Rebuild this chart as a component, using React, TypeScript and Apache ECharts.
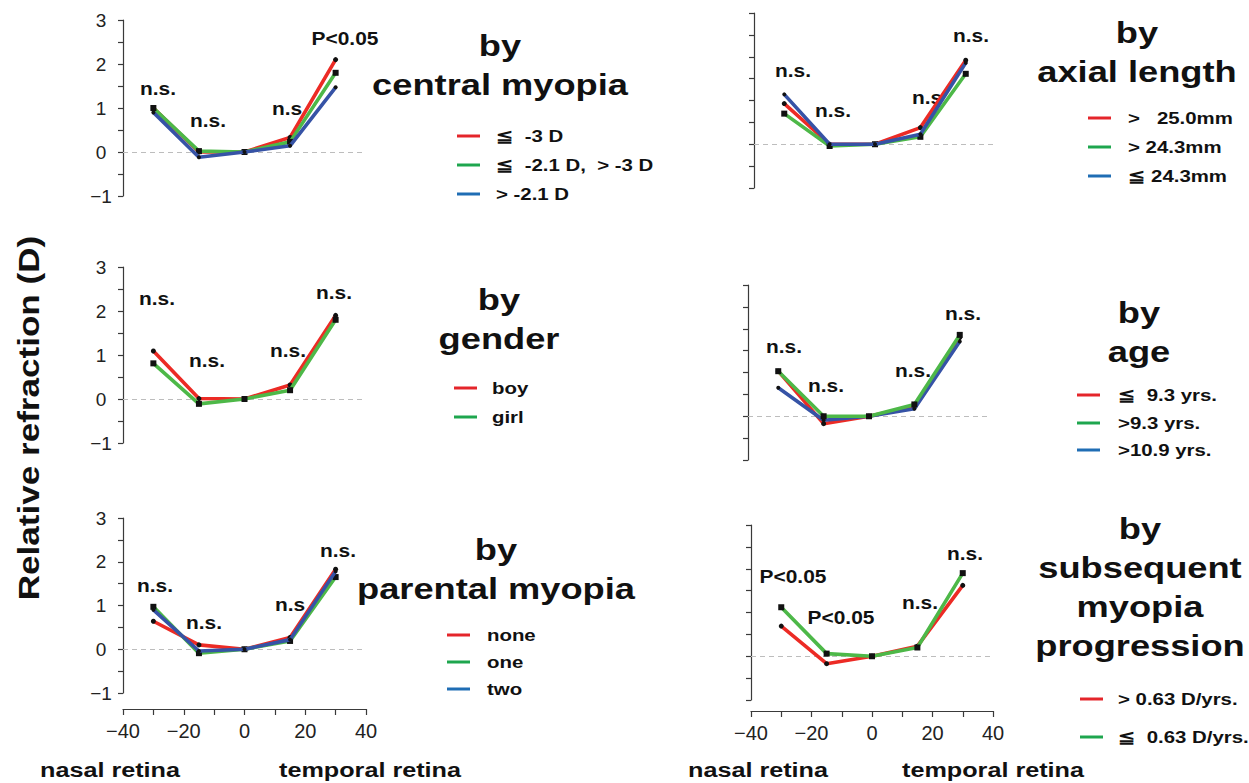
import React, { useEffect, useRef } from 'react';
import * as echarts from 'echarts';

// Eccentricity (degrees) of the measured retinal positions
const ANGLES = [-30, -15, 0, 15, 30];

// by central myopia
const centralHigh = [1.0, 0.0, 0, 0.33, 2.1];
const centralMid = [1.0, 0.02, 0, 0.23, 1.8];
const centralLow = [0.9, -0.12, 0, 0.14, 1.47];

// by axial length
const axialLong = [0.93, 0.0, 0, 0.38, 1.92];
const axialMid = [0.7, -0.04, 0, 0.17, 1.61];
const axialShort = [1.14, 0.0, 0, 0.23, 1.86];

// by gender
const boys = [1.09, 0.01, 0, 0.32, 1.9];
const girls = [0.81, -0.11, 0, 0.2, 1.8];

// by age
const ageYoung = [1.03, -0.17, 0, 0.22, 1.8];
const ageMid = [1.03, 0.0, 0, 0.27, 1.86];
const ageOld = [0.65, -0.09, 0, 0.17, 1.71];

// by parental myopia
const parentNone = [0.64, 0.1, 0, 0.27, 1.83];
const parentOne = [0.97, -0.09, 0, 0.19, 1.65];
const parentTwo = [0.9, -0.04, 0, 0.22, 1.78];

// by subsequent myopia progression
const progFast = [0.69, -0.17, 0, 0.23, 1.62];
const progSlow = [1.12, 0.06, 0, 0.2, 1.9];

// Significance notes per position
const notesCentral = ['n.s.', 'n.s.', 'n.s', 'P<0.05'];
const notesAxial = ['n.s.', 'n.s.', 'n.s', 'n.s.'];
const notesGender = ['n.s.', 'n.s.', 'n.s.', 'n.s.'];
const notesAge = ['n.s.', 'n.s.', 'n.s.', 'n.s.'];
const notesParent = ['n.s.', 'n.s.', 'n.s', 'n.s.'];
const notesProg = ['P<0.05', 'P<0.05', 'n.s.', 'n.s.'];

const X_TICKS = [-40, -20, 0, 20, 40];
const Y_TICKS = [-1, 0, 1, 2, 3];

const RED = '#ec2b25';
const GREEN = '#4db848';
const BLUE = '#3653a6';
const LEG_RED = '#e4252a';
const LEG_GREEN = '#1ea64e';
const LEG_BLUE = '#1f6db4';

const FONT = '"Liberation Sans", Arial, Helvetica, sans-serif';

type Line = { name: string; data: number[]; color: string; legendColor: string; symbol: string; size: number };
type Panel = {
  grid: { left: number; top: number; width: number; height: number };
  yLabels: boolean;
  xAxisOffset: number | null;
  lines: Line[];
  order: number[];
  notes: string[];
  notePos: [number, number][];
  title: string[];
  titleX: number;
  titleY: number;
  legendX: number;
  legendY: number[];
  legendTextX: number;
};

const red = (name: string, data: number[]): Line => ({ name, data, color: RED, legendColor: LEG_RED, symbol: 'circle', size: 5 });
const green = (name: string, data: number[]): Line => ({ name, data, color: GREEN, legendColor: LEG_GREEN, symbol: 'rect', size: 6 });
const blue = (name: string, data: number[]): Line => ({ name, data, color: BLUE, legendColor: LEG_BLUE, symbol: 'circle', size: 4 });

const panels: Panel[] = [
  {
    grid: { left: 123, top: 20, width: 243, height: 176 },
    yLabels: true,
    xAxisOffset: null,
    lines: [red('≦  -3 D', centralHigh), green('≦  -2.1 D,  > -3 D', centralMid), blue('> -2.1 D', centralLow)],
    order: [0, 1, 2],
    notes: notesCentral,
    notePos: [[158, 88], [208, 120], [287, 108], [345, 38]],
    title: ['by', 'central myopia'],
    titleX: 500,
    titleY: 46,
    legendX: 457,
    legendY: [136, 165, 194],
    legendTextX: 496,
  },
  {
    grid: { left: 754, top: 13, width: 242, height: 175 },
    yLabels: false,
    xAxisOffset: null,
    lines: [red('>   25.0mm', axialLong), green('> 24.3mm', axialMid), blue('≦ 24.3mm', axialShort)],
    order: [0, 1, 2],
    notes: notesAxial,
    notePos: [[793, 70], [833, 110], [927, 97], [971, 35]],
    title: ['by', 'axial length'],
    titleX: 1137,
    titleY: 33,
    legendX: 1088,
    legendY: [118, 147, 176],
    legendTextX: 1128,
  },
  {
    grid: { left: 123, top: 267, width: 243, height: 176 },
    yLabels: true,
    xAxisOffset: null,
    lines: [red('boy', boys), green('girl', girls)],
    order: [0, 1],
    notes: notesGender,
    notePos: [[157, 298], [207, 360], [288, 350], [334, 292]],
    title: ['by', 'gender'],
    titleX: 499,
    titleY: 300,
    legendX: 454,
    legendY: [388, 417],
    legendTextX: 492,
  },
  {
    grid: { left: 748, top: 285, width: 242, height: 175 },
    yLabels: false,
    xAxisOffset: null,
    lines: [red('≦  9.3 yrs.', ageYoung), green('>9.3 yrs.', ageMid), blue('>10.9 yrs.', ageOld)],
    order: [0, 2, 1],
    notes: notesAge,
    notePos: [[784, 346], [826, 385], [913, 370], [963, 313]],
    title: ['by', 'age'],
    titleX: 1139,
    titleY: 313,
    legendX: 1077,
    legendY: [395, 423, 450],
    legendTextX: 1118,
  },
  {
    grid: { left: 123, top: 518, width: 243, height: 175 },
    yLabels: true,
    xAxisOffset: 16,
    lines: [red('none', parentNone), green('one', parentOne), blue('two', parentTwo)],
    order: [0, 1, 2],
    notes: notesParent,
    notePos: [[155, 585], [204, 622], [290, 604], [338, 550]],
    title: ['by', 'parental myopia'],
    titleX: 496,
    titleY: 550,
    legendX: 447,
    legendY: [635, 662, 689],
    legendTextX: 487,
  },
  {
    grid: { left: 751, top: 525, width: 242, height: 175 },
    yLabels: false,
    xAxisOffset: 11,
    lines: [red('> 0.63 D/yrs.', progFast), green('≦  0.63 D/yrs.', progSlow)],
    order: [0, 1],
    notes: notesProg,
    notePos: [[793, 576], [841, 617], [920, 602], [965, 553]],
    title: ['by', 'subsequent', 'myopia', 'progression'],
    titleX: 1140,
    titleY: 529,
    legendX: 1080,
    legendY: [699, 737],
    legendTextX: 1118,
  },
];

const minus = (v: number) => (v < 0 ? '\u2212' + Math.abs(v) : String(v));

// Bold label helper; the figure's lettering is set slightly wide
const label = (text: string, x: number, y: number, size: number, stretch: number, align = 'center', rotation = 0) => ({
  type: 'text',
  x,
  y,
  rotation,
  scaleX: stretch,
  style: {
    text,
    font: `bold ${size}px ${FONT}`,
    fill: '#111',
    textAlign: align,
    textVerticalAlign: 'middle',
  },
});

function buildOption() {
  const grid: any[] = [];
  const xAxis: any[] = [];
  const yAxis: any[] = [];
  const series: any[] = [];
  const graphic: any[] = [];

  panels.forEach((p, i) => {
    grid.push({ ...p.grid, containLabel: false });
    xAxis.push({
      gridIndex: i,
      type: 'value',
      min: -40,
      max: 40,
      interval: 10,
      show: p.xAxisOffset !== null,
      offset: p.xAxisOffset ?? 0,
      position: 'bottom',
      axisLine: { show: true, onZero: false, lineStyle: { color: '#3a3a3a', width: 1.2 } },
      axisTick: { show: true, length: 6, lineStyle: { color: '#3a3a3a', width: 1.2 } },
      splitLine: { show: false },
      axisLabel: {
        margin: 12,
        fontFamily: FONT,
        fontSize: 20,
        color: '#222',
        formatter: (v: number) => (X_TICKS.includes(v) ? minus(v) : ''),
      },
    });
    yAxis.push({
      gridIndex: i,
      type: 'value',
      min: -1,
      max: 3,
      interval: 0.5,
      position: 'left',
      axisLine: { show: true, onZero: false, lineStyle: { color: '#3a3a3a', width: 1.2 } },
      axisTick: { show: true, length: 5, lineStyle: { color: '#3a3a3a', width: 1.2 } },
      splitLine: { show: false },
      axisLabel: {
        show: p.yLabels,
        margin: 22,
        align: 'center',
        fontFamily: FONT,
        fontSize: 19,
        color: '#222',
        formatter: (v: number) => (Y_TICKS.includes(v) ? minus(v) : ''),
      },
    });

    p.order.forEach((k, n) => {
      const l = p.lines[k];
      const s: any = {
        type: 'line',
        name: l.name,
        xAxisIndex: i,
        yAxisIndex: i,
        data: ANGLES.map((a, j) => [a, l.data[j]]),
        symbol: l.symbol,
        symbolSize: l.size,
        showSymbol: true,
        lineStyle: { color: l.color, width: 3.6 },
        itemStyle: { color: '#111' },
        z: 3 + n,
      };
      if (n === 0) {
        s.markLine = {
          silent: true,
          symbol: 'none',
          label: { show: false },
          lineStyle: { type: [5, 4], color: '#bdbdbd', width: 1 },
          data: [{ yAxis: 0 }],
          z: 1,
        };
      }
      series.push(s);
    });

    p.notes.forEach((t, j) => {
      graphic.push(label(t, p.notePos[j][0], p.notePos[j][1], 19, 1.1));
    });

    p.title.forEach((t, j) => {
      graphic.push(label(t, p.titleX, p.titleY + j * 39, 29, 1.25));
    });

    p.lines.forEach((l, j) => {
      const y = p.legendY[j];
      graphic.push({
        type: 'line',
        shape: { x1: p.legendX, y1: y, x2: p.legendX + 23, y2: y },
        style: { stroke: l.legendColor, lineWidth: 3 },
      });
      graphic.push(label(l.name, p.legendTextX, y, 17, 1.2, 'left'));
    });
  });

  // Shared axis titles
  graphic.push(label('Relative refraction (D)', 29, 418, 29, 1.21, 'center', Math.PI / 2));
  const bottom: [string, number][] = [
    ['nasal retina', 110],
    ['temporal retina', 370],
    ['nasal retina', 758],
    ['temporal retina', 993],
  ];
  bottom.forEach(([t, x]) => {
    graphic.push(label(t, x, 770, 21, 1.2));
  });

  return {
    animation: false,
    backgroundColor: '#ffffff',
    grid,
    xAxis,
    yAxis,
    series,
    graphic,
  };
}

export default function App() {
  const ref = useRef<HTMLDivElement>(null);
  useEffect(() => {
    if (!ref.current) return;
    const chart = echarts.init(ref.current, undefined, { renderer: 'svg' });
    chart.setOption(buildOption());
    return () => chart.dispose();
  }, []);
  return (
    <div
      ref={ref}
      style={{ position: 'absolute', left: 0, top: 0, width: 1249, height: 783, background: '#fff' }}
    />
  );
}
